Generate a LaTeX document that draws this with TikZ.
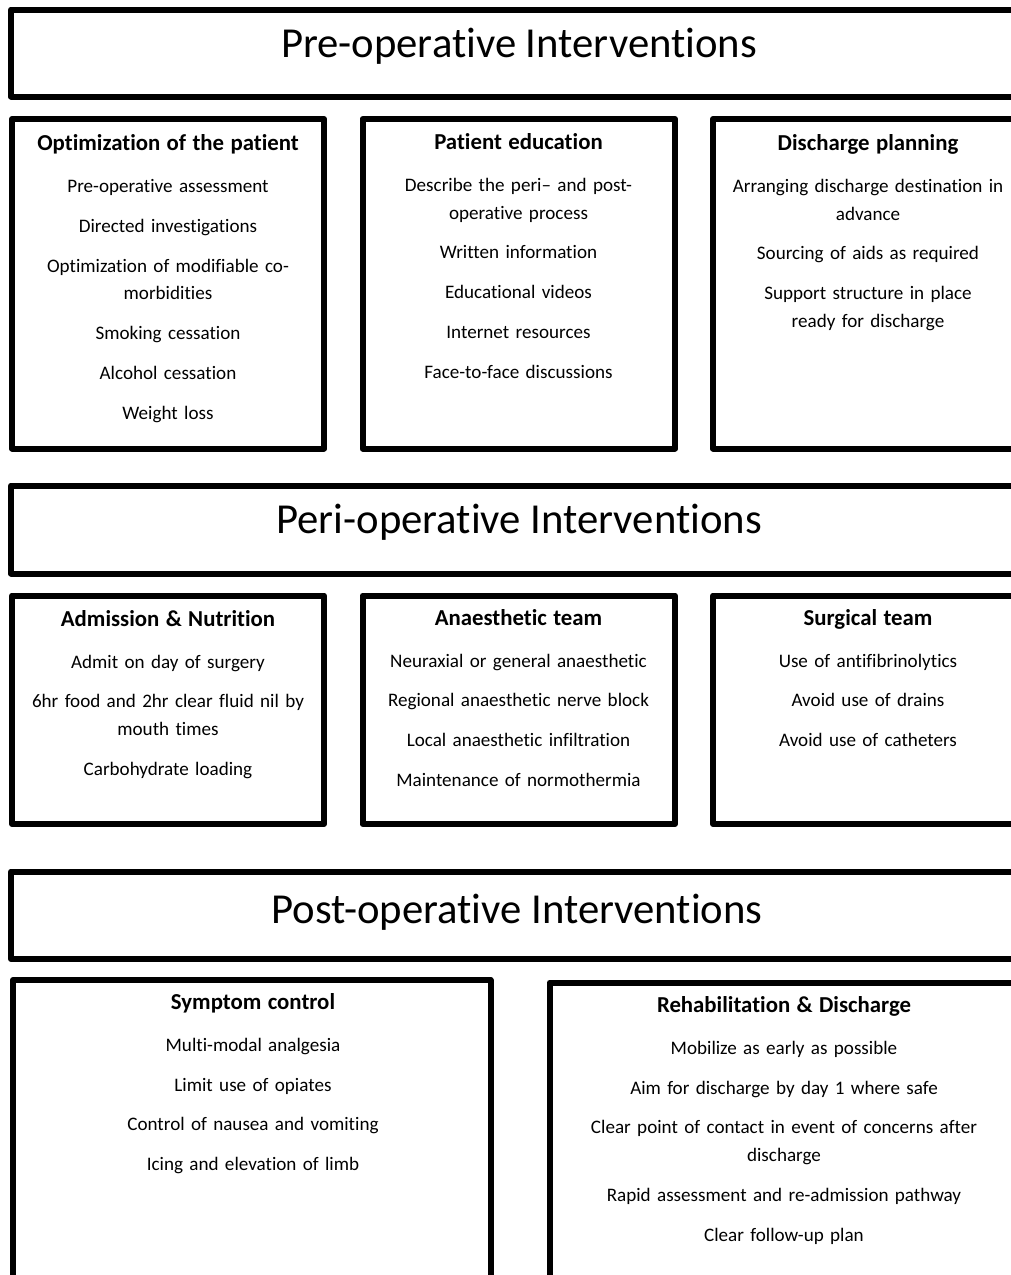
\documentclass[tikz,border=0pt]{standalone}
\usepackage{fontspec}
\setmainfont{Carlito}[Ligatures={TeX,CommonOff}]
\newcommand\bodyfont{\fontsize{19.1bp}{27.5bp}\selectfont}
\newcommand\headfont{\bfseries\fontsize{22.8bp}{27.5bp}\selectfont}
\newcommand\titlefont{\fontsize{42.7bp}{48bp}\selectfont}
\tikzset{ banner/.style = { draw
                          , line width   = 6bp
                          , line join    = round
                          , inner sep    = 0pt
                          , minimum width  = 1019bp
                          }
        , frame/.style  = { draw
                          , line width   = 6bp
                          , line join    = round
                          , inner sep    = 0pt
                          }
        , title/.style  = { anchor = base
                          , inner sep = 0pt
                          , font = \titlefont
                          }
        , items/.style  = { anchor = base
                          , inner sep  = 0pt
                          , align      = center
                          , text width = 300bp
                          , font = \bodyfont
                          }
        }

\begin{document}
\begin{tikzpicture}[x=1bp, y=-1bp]
  \clip (0,0) rectangle (1011,1275);
  \fill[white] (0,0) rectangle (1011,1275);

  % pre-operative
  \node[banner, minimum height=87bp] (pre) at (520.5,53) {};
  \node[title] (pretitle) at (519,57.5) {Pre-operative Interventions};
  \node[frame, minimum width=312bp, minimum height=329.5bp] (optbox) at (168,283.75) {};
  \node[frame, minimum width=312.5bp, minimum height=329.5bp] (edubox) at (518.75,283.75) {};
  \node[frame, minimum width=312bp, minimum height=329.5bp] (disbox) at (869,283.75) {};
  \node[items] (optim) at (168,150.7) {{\headfont Optimization of the patient}\\[14.5bp]
      Pre-operative assessment\\[12.3bp]
      Directed investigations\\[12.3bp]
      Optimization of modifiable co-\\ morbidities\\[12.3bp]
      Smoking cessation\\[12.3bp]
      Alcohol cessation\\[12.3bp]
      Weight loss};
  \node[items] (educ) at (518.5,149.5) {{\headfont Patient education}\\[14.5bp]
      Describe the peri-- and post-\\ operative process\\[12.3bp]
      Written information\\[12.3bp]
      Educational videos\\[12.3bp]
      Internet resources\\[12.3bp]
      Face-to-face discussions};
  \node[items] (disch) at (868,150.5) {{\headfont Discharge planning}\\[14.5bp]
      Arranging discharge destination in\\ advance\\[12.3bp]
      Sourcing of aids as required\\[12.3bp]
      Support structure in place\\ ready for discharge};

  % peri-operative
  \node[banner, minimum height=88bp] (peri) at (520.5,529.5) {};
  \node[title] (perititle) at (519,533.5) {Peri-operative Interventions};
  \node[frame, minimum width=312bp, minimum height=228.5bp] (admbox) at (168,709.75) {};
  \node[frame, minimum width=312.5bp, minimum height=228.5bp] (anabox) at (518.75,709.75) {};
  \node[frame, minimum width=312bp, minimum height=228.5bp] (surbox) at (869,709.75) {};
  \node[items] (admit) at (168,626) {{\headfont Admission \& Nutrition}\\[14.5bp]
      Admit on day of surgery\\[12.3bp]
      6hr food and 2hr clear fluid nil by\\ mouth times\\[12.3bp]
      Carbohydrate loading};
  \node[items] (anaes) at (518.5,625) {{\headfont Anaesthetic team}\\[14.5bp]
      Neuraxial or general anaesthetic\\[12.3bp]
      Regional anaesthetic nerve block\\[12.3bp]
      Local anaesthetic infiltration\\[12.3bp]
      Maintenance of normothermia};
  \node[items] (surg) at (868,625) {{\headfont Surgical team}\\[14.5bp]
      Use of antifibrinolytics\\[12.3bp]
      Avoid use of drains\\[12.3bp]
      Avoid use of catheters};

  % post-operative
  \node[banner, minimum height=87.5bp] (post) at (520.5,915.25) {};
  \node[title] (posttitle) at (517,923.5) {Post-operative Interventions};
  \node[frame, minimum width=477.5bp, minimum height=320bp] (symbox) at (251.75,1140) {};
  \node[frame, minimum width=469.5bp, minimum height=317.5bp] (rehbox) at (784.25,1141.25) {};
  \node[items, text width=460bp] (sympt) at (253,1009.3) {{\headfont Symptom control}\\[14.5bp]
      Multi-modal analgesia\\[12.3bp]
      Limit use of opiates\\[12.3bp]
      Control of nausea and vomiting\\[12.3bp]
      Icing and elevation of limb};
  \node[items, text width=460bp] (rehab) at (784,1012.3) {{\headfont Rehabilitation \& Discharge}\\[14.5bp]
      Mobilize as early as possible\\[12.3bp]
      Aim for discharge by day 1 where safe\\[12.3bp]
      Clear point of contact in event of concerns after\\ discharge\\[12.3bp]
      Rapid assessment and re-admission pathway\\[12.3bp]
      Clear follow-up plan};
\end{tikzpicture}
\end{document}
